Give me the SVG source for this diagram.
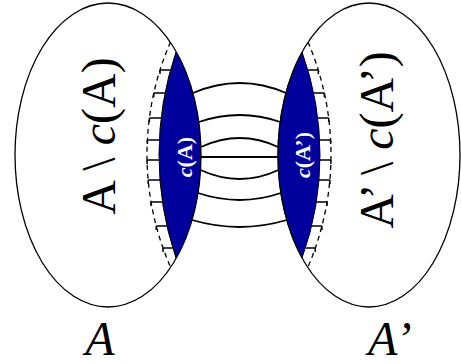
<svg xmlns="http://www.w3.org/2000/svg" width="461" height="364" viewBox="0 0 461 364">
<style>
.ell{fill:#fff;stroke:#000;stroke-width:1.3}
.lens{fill:#00009c;stroke:#000;stroke-width:1}
.dash{fill:none;stroke:#000;stroke-width:1.3;stroke-dasharray:5,4}
.tick{fill:none;stroke:#000;stroke-width:1.5}
.con{fill:none;stroke:#000;stroke-width:1.8}
text{font-family:'Liberation Serif','DejaVu Serif',serif}
.big{font-size:48px;fill:#000}
.small{font-size:22px;font-weight:bold;fill:#fff}
</style>
<rect width="461" height="364" fill="#fff"/>
<g id="nodeA">
<ellipse class="ell" cx="108" cy="155" rx="93" ry="152"/>
<path class="dash" d="M170.5,42 A281,281 0 0 0 170.5,267"/>
<path class="lens" d="M176,52 A93,152 0 0 1 176,258 A320.5,320.5 0 0 1 176,52 Z"/>
<path class="tick" d="M160,70H170.5M160,70v4 M153.8,93H165.1M153.8,93v4 M149.4,118H161.1M149.4,118v4 M147.4,140H159.4M147.4,140v4 M147.1,160H159M147.1,160v4 M148.2,180H160M148.2,180v4 M151,202H162.5M151,202v4 M156.2,226H167M156.2,226v4 M163,248H172.8M163,248v4"/>
<text class="big" transform="translate(115,136) rotate(-90)" text-anchor="middle">A \ <tspan font-style="italic">c</tspan>(A)</text>
<text class="small" transform="translate(192,157) rotate(-90)" text-anchor="middle"><tspan font-style="italic">c</tspan>(A)</text>
<text class="big" x="100" y="355" text-anchor="middle" font-style="italic">A</text>
</g>
<g id="nodeA2">
<ellipse class="ell" cx="369" cy="155" rx="91" ry="152"/>
<path class="dash" d="M308,42 A286.6,286.6 0 0 1 308,267"/>
<path class="lens" d="M302,52 A303.7,303.7 0 0 1 302,258 A91,152 0 0 1 302,52 Z"/>
<path class="tick" d="M318.3,70H307.9M318.3,70v4 M324.3,93H313.6M324.3,93v4 M328.7,118H317.7M328.7,118v4 M330.6,140H319.6M330.6,140v4 M330.9,160H320M330.9,160v4 M329.9,180H319M329.9,180v4 M327,202H316.3M327,202v4 M321.9,226H311.6M321.9,226v4 M315.3,248H305.4M315.3,248v4"/>
<text class="big" transform="translate(393,140) rotate(-90)" text-anchor="middle">A’ \ <tspan font-style="italic">c</tspan>(A’)</text>
<text class="small" transform="translate(310,155) rotate(-90)" text-anchor="middle"><tspan font-style="italic">c</tspan>(A’)</text>
<text class="big" x="368" y="355" font-style="italic">A’</text>
</g>
<g id="connectors">
<path class="con" d="M193,93 Q240,73 286,93"/>
<path class="con" d="M198.8,122 Q240,108 280.2,122"/>
<path class="con" d="M200.9,147 Q240,129 278.1,147"/>
<path class="con" d="M201,157 L278,157"/>
<path class="con" d="M200.5,170 Q240,188 278.4,170"/>
<path class="con" d="M198,193 Q240,207 280.9,193"/>
<path class="con" d="M192,220 Q240,234 286.7,220"/>
</g>
</svg>
